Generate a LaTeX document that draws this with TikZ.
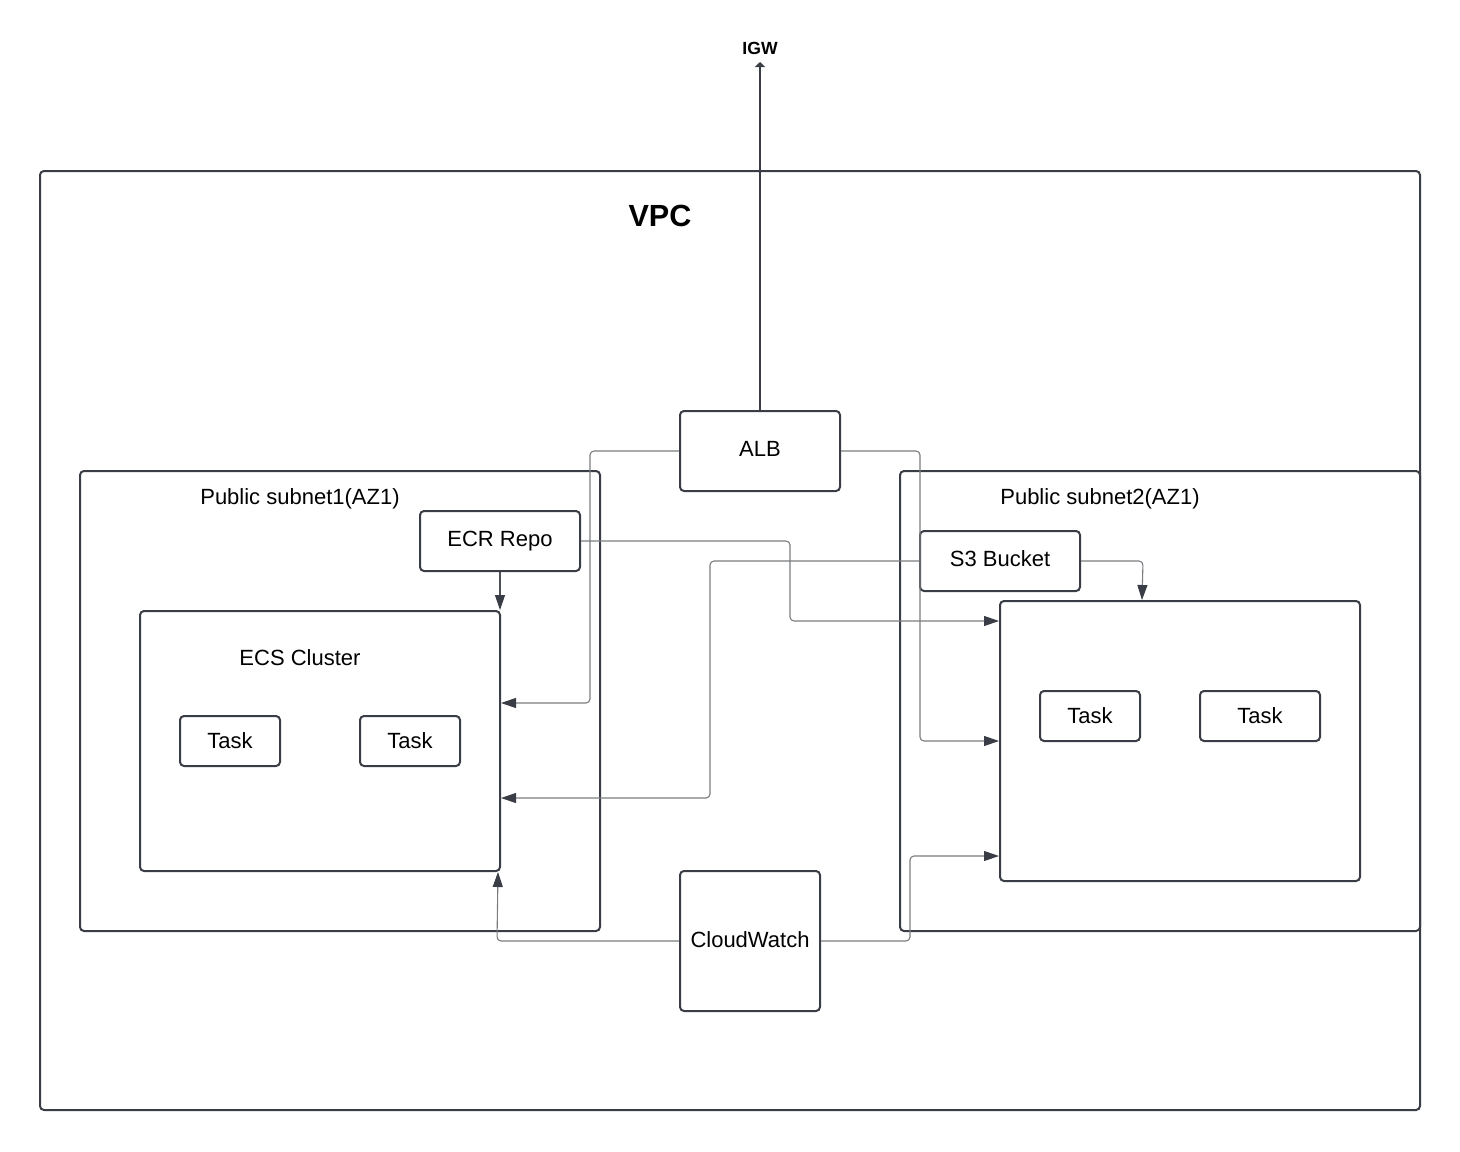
\documentclass[tikz,border=0pt]{standalone}
\usepackage{fontspec}
\setmainfont{Liberation Sans}
\usetikzlibrary{arrows.meta,calc}
\definecolor{boxc}{HTML}{3A3D45}
\definecolor{linec}{HTML}{7A7C80}
\begin{document}
\begin{tikzpicture}[x=0.5pt,y=-0.5pt,
  box/.style={draw=boxc,line width=1pt,rounded corners=2pt,inner sep=0pt,
    font=\fontsize{11}{13}\selectfont},
  lbl/.style={inner sep=0pt,font=\fontsize{11}{13}\selectfont},
  conn/.style={draw=linec,line width=0.55pt,rounded corners=2pt,
    -{Triangle[length=7.5pt,width=5pt,color=boxc,fill=boxc]}},
]
\useasboundingbox (0,0) rectangle (1460,1151);
% VPC
\node[box,minimum width=690pt,minimum height=469.5pt] (vpc) at (730,640.5) {};
\node[inner sep=0pt,font=\bfseries\fontsize{15.3}{18}\selectfont] (vpclbl) at (660,216) {VPC};
% IGW
\node[inner sep=0pt,font=\bfseries\fontsize{8.8}{10}\selectfont] (igw) at (760,48) {IGW};
\coordinate (igwpt) at (760,62);
% subnets
\node[box,minimum width=260pt,minimum height=230pt] (sub1) at (340,701) {};
\node[lbl] (sub1lbl) at (300,499) {Public subnet1(AZ1)};
\node[box,minimum width=260pt,minimum height=230pt] (sub2) at (1160,701) {};
\node[lbl] (sub2lbl) at (1100,499) {Public subnet2(AZ1)};
% clusters
\node[box,minimum width=180pt,minimum height=130pt] (ecs1) at (320,741) {};
\node[lbl] (ecslbl) at (300,657.5) {ECS Cluster};
\node[box,minimum width=180pt,minimum height=140pt] (ecs2) at (1180,741) {};
% tasks
\node[box,minimum width=50pt,minimum height=25pt] (t1) at (230,741) {Task};
\node[box,minimum width=50pt,minimum height=25pt] (t2) at (410,741) {Task};
\node[box,minimum width=50pt,minimum height=25pt] (t3) at (1090,716) {Task};
\node[box,minimum width=60pt,minimum height=25pt] (t4) at (1260,716) {Task};
% services
\node[box,minimum width=80pt,minimum height=40pt] (alb) at (760,451) {\raisebox{2pt}{ALB}};
\node[box,minimum width=80pt,minimum height=30pt] (ecr) at (500,541) {\raisebox{2pt}{ECR Repo}};
\node[box,minimum width=80pt,minimum height=30pt] (s3) at (1000,561) {\raisebox{2pt}{S3 Bucket}};
\node[box,minimum width=70pt,minimum height=70pt] (cw) at (750,941) {\raisebox{1.5pt}{CloudWatch}};
% connectors
\draw[boxc,line width=1pt,-{Triangle[length=2.5pt,width=5pt]}] (alb.north) -- (igwpt);
\draw[conn] (alb.west) -- (590,451) -- (590,703) -- ($(ecs1.east)+(0,-38)$);
\draw[conn] (alb.east) -- (920,451) -- (920,741) -- (ecs2.west);
\draw[conn] (ecr.east) -- (790,541) -- (790,621) -- ($(ecs2.west)+(0,-120)$);
\draw[conn] (s3.west) -- (710,561) -- (710,798) -- ($(ecs1.east)+(0,57)$);
\draw[conn] (s3.east) -- (1143,561) -- ($(ecs2.north west)+(143,0)$);
\draw[conn,draw=boxc!90] (ecr.south) -- (ecr.south |- ecs1.north);
\draw[conn] (cw.west) -- (497,941) -- ($(ecs1.south east)+(-3,0)$);
\draw[conn] (cw.east) -- (910,941) -- (910,856) -- ($(ecs2.west)+(0,115)$);
\end{tikzpicture}
\end{document}
